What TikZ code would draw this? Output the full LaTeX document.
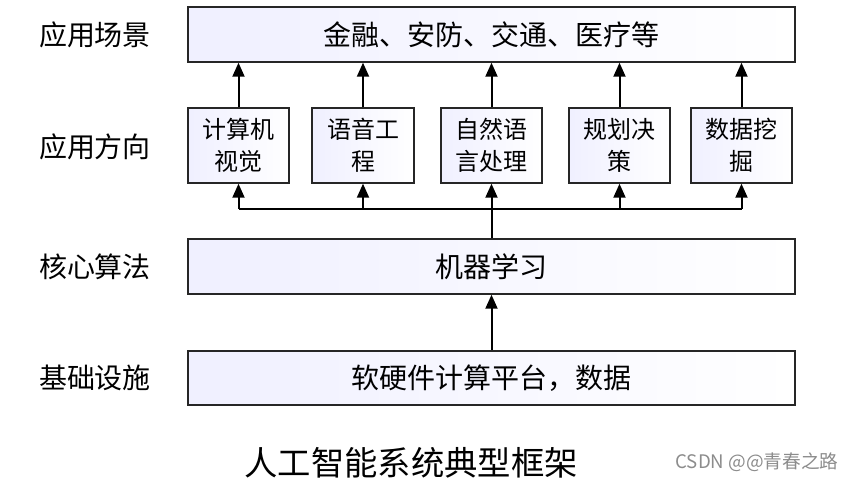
\documentclass[tikz,border=0pt]{standalone}
\usepackage{fontspec}
\setmainfont{Noto Sans CJK SC}
\usetikzlibrary{arrows.meta}

\begin{document}
\begin{tikzpicture}[x=0.75pt,y=-0.75pt,
  layer/.style={draw=black!85,line width=1.3pt,left color=blue!6!white,right color=white,
    minimum width=455pt,minimum height=41pt,inner sep=0pt,font=\fontsize{21}{24}\selectfont},
  field/.style={draw=black!85,line width=1.3pt,left color=blue!6!white,right color=white,
    minimum width=76pt,minimum height=56pt,inner sep=0pt,align=center,
    font=\fontsize{18}{24}\selectfont},
  side/.style={font=\fontsize{21}{24}\selectfont},
  up/.style={line width=1.5pt,-{Triangle[length=10.5pt,width=9pt]}}]
\useasboundingbox (0,0) rectangle (868,480);
% layers
\node[layer] (scene) at (491.5,34.5) {金融、安防、交通、医疗等};
\node[field] (d1) at (238.5,145.5) {计算机\\视觉};
\node[field] (d2) at (363,145.5) {语音工\\程};
\node[field] (d3) at (491.5,145.5) {自然语\\言处理};
\node[field] (d4) at (619.5,145.5) {规划决\\策};
\node[field] (d5) at (741.5,145.5) {数据挖\\掘};
\node[layer] (ml) at (491.5,266.5) {机器学习};
\node[layer] (base) at (491.5,378) {软硬件计算平台，数据};
% left labels
\node[side] (l1) at (95,35) {应用场景};
\node[side] (l2) at (95,147) {应用方向};
\node[side] (l3) at (95,267) {核心算法};
\node[side] (l4) at (95,378) {基础设施};
\node[font=\fontsize{25}{28}\selectfont] (title) at (411,463) {人工智能系统典型框架};
\node[font=\fontsize{14}{16}\selectfont,text=black!45] (mark) at (757,462) {CSDN @@青春之路};
% arrows
\coordinate (bus) at (0,209);
\foreach \i in {1,...,5}
  \draw[up] (d\i.north) -- (d\i.north |- scene.south);
\draw[line width=1.5pt] (d1.south |- bus) -- (d5.south |- bus);
\foreach \i in {1,2,4,5}
  \draw[up] (d\i.south |- bus) -- (d\i.south);
\draw[up] (ml.north) -- (d3.south);
\draw[up] (base.north) -- (ml.south);
\end{tikzpicture}
\end{document}
